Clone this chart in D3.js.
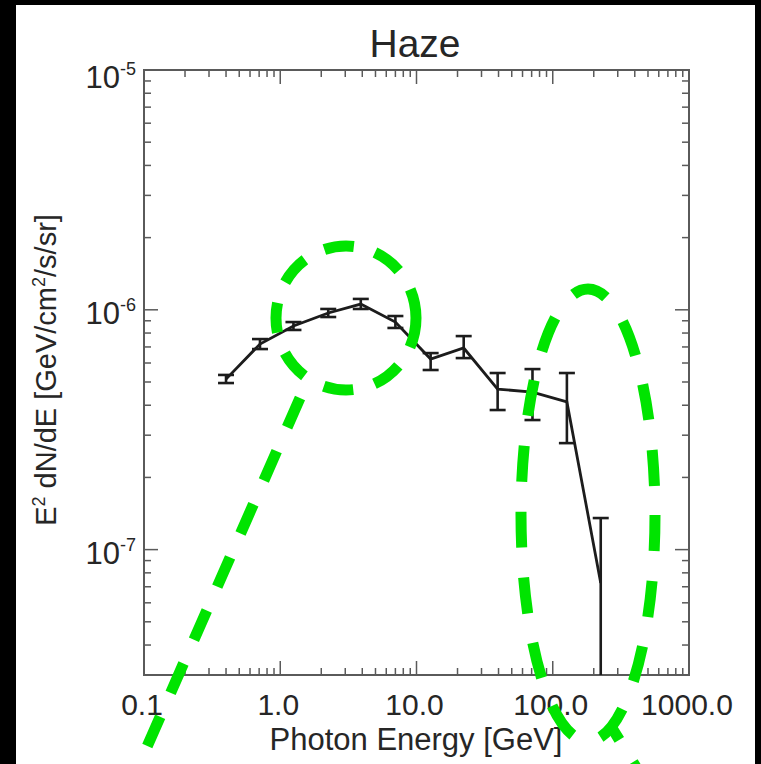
<!DOCTYPE html>
<html><head><meta charset="utf-8">
<script src="https://cdn.jsdelivr.net/npm/d3@7"></script>
<style>html,body{margin:0;padding:0;background:#000;}svg{display:block;}</style>
</head><body>
<svg id="c" width="761" height="764"></svg>
<script>
// ---- data ----
const title = "Haze";
const xLabel = "Photon Energy [GeV]";
const energy = [0.40, 0.71, 1.25, 2.25, 3.9, 7.0, 12.7, 22.2, 39.4, 71, 127, 225];
const flux   = [5.14e-7, 7.20e-7, 8.56e-7, 9.70e-7, 1.057e-6, 8.89e-7, 6.23e-7, 6.93e-7, 4.67e-7, 4.54e-7, 4.13e-7, 7.26e-8];
const fluxHi = [5.35e-7, 7.55e-7, 8.89e-7, 1.008e-6, 1.11e-6, 9.42e-7, 6.60e-7, 7.77e-7, 5.45e-7, 5.66e-7, 5.45e-7, 1.354e-7];
const fluxLo = [4.95e-7, 6.86e-7, 8.24e-7, 9.33e-7, 1.008e-6, 8.40e-7, 5.61e-7, 6.29e-7, 3.82e-7, 3.47e-7, 2.78e-7, 1e-9];
const xMajor = [0.1, 1, 10, 100, 1000];
const xMajorLabels = ["0.1", "1.0", "10.0", "100.0", "1000.0"];
const yMajor = [1e-7, 1e-6, 1e-5];
const yMajorExp = ["-7", "-6", "-5"];

// ---- layout ----
const L = 144, R = 689, T = 70, B = 675;
const svg = d3.select("#c");
svg.append("rect").attr("x", 16).attr("y", 5).attr("width", 739).attr("height", 759).attr("fill", "#fff");

const x = d3.scaleLog().domain([0.1, 1000]).range([L, R]);
const y = d3.scaleLog().domain([3e-8, 1e-5]).range([B, T]);

const font = "'Liberation Sans', Arial, Helvetica, sans-serif";
const txt = "#262626", axc = "#5a5a5a";

// title
svg.append("text").attr("x", 415).attr("y", 57).attr("text-anchor", "middle")
  .attr("font-family", font).attr("font-size", 39).attr("fill", txt).text(title);

// ticks
const MAJ = 14, MIN = 7;
const xMinor = x.ticks().filter(v => !xMajor.some(m => Math.abs(m - v) / m < 1e-9));
const yMinor = y.ticks().filter(v => !yMajor.some(m => Math.abs(m - v) / m < 1e-9));
const tk = svg.append("g").attr("stroke", axc).attr("stroke-width", 1.5);
function xt(vals, len) {
  vals.forEach(v => {
    tk.append("line").attr("x1", x(v)).attr("x2", x(v)).attr("y1", B).attr("y2", B - len);
    tk.append("line").attr("x1", x(v)).attr("x2", x(v)).attr("y1", T).attr("y2", T + len);
  });
}
function yt(vals, len) {
  vals.forEach(v => {
    tk.append("line").attr("y1", y(v)).attr("y2", y(v)).attr("x1", L).attr("x2", L + len);
    tk.append("line").attr("y1", y(v)).attr("y2", y(v)).attr("x1", R).attr("x2", R - len);
  });
}
xt(xMajor, MAJ); xt(xMinor, MIN); yt(yMajor, MAJ); yt(yMinor, MIN);

// frame
svg.append("rect").attr("x", L).attr("y", T).attr("width", R - L).attr("height", B - T)
  .attr("fill", "none").attr("stroke", axc).attr("stroke-width", 2);

// x tick labels
xMajor.forEach((v, i) => {
  svg.append("text").attr("x", x(v) - 2).attr("y", 715).attr("text-anchor", "middle")
    .attr("font-family", font).attr("font-size", 30).attr("fill", txt).text(xMajorLabels[i]);
});
// y tick labels
yMajor.forEach((v, i) => {
  const t = svg.append("text").attr("x", 136).attr("y", y(v) + (i === 2 ? 18 : 14)).attr("text-anchor", "end")
    .attr("font-family", font).attr("font-size", 31).attr("fill", txt);
  t.append("tspan").text("10");
  t.append("tspan").attr("font-size", 18).attr("dy", -13).text(yMajorExp[i]);
});

// axis titles
svg.append("text").attr("x", 416).attr("y", 750).attr("text-anchor", "middle")
  .attr("font-family", font).attr("font-size", 31).attr("fill", txt).text(xLabel);
const yl = svg.append("text").attr("transform", "translate(56," + 370 + ") rotate(-90)")
  .attr("text-anchor", "middle").attr("font-family", font).attr("font-size", 29).attr("fill", txt);
yl.append("tspan").text("E");
yl.append("tspan").attr("font-size", 18).attr("dy", -11).text("2");
yl.append("tspan").attr("dy", 11).text(" dN/dE [GeV/cm");
yl.append("tspan").attr("font-size", 18).attr("dy", -11).text("2");
yl.append("tspan").attr("dy", 11).text("/s/sr]");

// data
svg.append("clipPath").attr("id", "pc").append("rect").attr("x", L).attr("y", T).attr("width", R - L).attr("height", B - T);
const g = svg.append("g").attr("clip-path", "url(#pc)");
const pts = energy.map((e, i) => ({e, f: flux[i], hi: fluxHi[i], lo: fluxLo[i]}));
g.append("path").datum(pts).attr("fill", "none").attr("stroke", "#1c1c1c").attr("stroke-width", 2.8)
  .attr("d", d3.line().x(d => x(d.e)).y(d => y(d.f)));
const cap = 8;
const eb = g.append("g").attr("stroke", "#1c1c1c").attr("stroke-width", 2.6);
pts.forEach(d => {
  eb.append("line").attr("x1", x(d.e)).attr("x2", x(d.e)).attr("y1", y(d.hi)).attr("y2", y(d.lo));
  eb.append("line").attr("x1", x(d.e) - cap).attr("x2", x(d.e) + cap).attr("y1", y(d.hi)).attr("y2", y(d.hi));
  eb.append("line").attr("x1", x(d.e) - cap).attr("x2", x(d.e) + cap).attr("y1", y(d.lo)).attr("y2", y(d.lo));
});

// green dashed annotations (overlay drawn on the picture)
const ann = svg.append("g").attr("fill", "none").attr("stroke", "#00e400").attr("stroke-width", 11);
ann.append("ellipse").attr("cx", 346).attr("cy", 318).attr("rx", 70).attr("ry", 72)
  .attr("stroke-dasharray", "30 22");
ann.append("line").attr("x1", 300).attr("y1", 398).attr("x2", 128).attr("y2", 790)
  .attr("stroke-dasharray", "32 26");
ann.append("ellipse").attr("cx", 588).attr("cy", 515).attr("rx", 67).attr("ry", 226)
  .attr("stroke-dasharray", "36 30");
ann.append("line").attr("x1", 612).attr("y1", 728).attr("x2", 650).attr("y2", 790)
  .attr("stroke-dasharray", "30 26").attr("stroke-dashoffset", -40);
</script>
</body></html>
